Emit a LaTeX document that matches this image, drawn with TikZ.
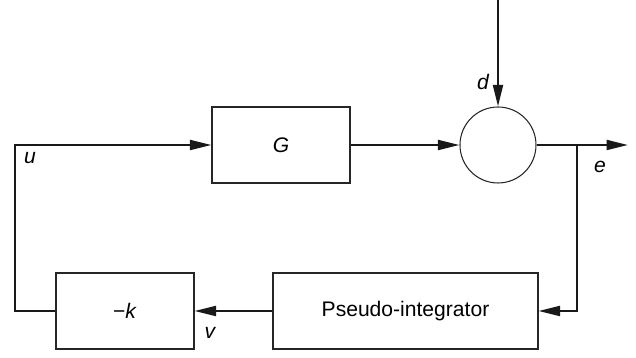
\documentclass[tikz,border=0pt]{standalone}
\usepackage{fontspec}
\setmainfont{Liberation Sans}
\usetikzlibrary{arrows.meta,positioning}

\tikzset{
  blk/.style={draw=black!85, line width=0.6pt, minimum height=1.52cm, font=\fontsize{12}{14}\selectfont},
  flow/.style={draw=black!90, line width=1.2pt},
  lbl/.style={font=\fontsize{12}{14}\selectfont\itshape}
}

\begin{document}
\begin{tikzpicture}[>={Triangle[length=4.3mm,width=2mm]}]
        % --- 1. Parameters ---
        \def\topY{4.26}
        \def\botY{0.94}
        \def\leftX{0.3}
        \def\branchX{11.54}

        \useasboundingbox (0,0) rectangle (12.72,7.16);

        % --- 2. Blocks ---
        \node[blk, minimum width=2.76cm] (G) at (5.62,\topY) {\textit{G}};
        \node[circle, draw=black!85, line width=0.6pt, minimum size=1.52cm, inner sep=0pt] (sum) at (9.96,\topY) {};
        \node[blk, minimum width=2.76cm] (gain) at (2.5,\botY) {−\textit{k}};
        \node[blk, minimum width=5.3cm] (pint) at (8.11,\botY) {Pseudo-integrator};

        % corner points
        \coordinate (dIn) at (9.96,7.16);
        \coordinate (branch) at (\branchX,\topY);
        \coordinate (eOut) at (12.56,\topY);
        \coordinate (cornerR) at (\branchX,\botY);
        \coordinate (cornerBL) at (\leftX,\botY);
        \coordinate (cornerTL) at (\leftX,\topY);

        % --- 3. Forward path ---
        \draw[flow, ->] (G.east) -- (sum.west);
        \draw[flow, ->] (dIn) -- (sum.north);
        \draw[flow, ->] (sum.east) -- (eOut);

        % --- 4. Feedback path ---
        \draw[flow, ->] (branch) -- (cornerR) -- (pint.east);
        \draw[flow, ->] (pint.west) -- (gain.east);
        \draw[flow, ->] (gain.west) -- (cornerBL) -- (cornerTL) -- (G.west);

        % --- 5. Signal labels ---
        \node[lbl] (uLbl) at (0.6,4.0) {u};
        \node[lbl] (dLbl) at (9.66,5.52) {d};
        \node[lbl] (eLbl) at (12.0,3.82) {e};
        \node[lbl] (vLbl) at (4.2,0.5) {v};
\end{tikzpicture}
\end{document}
